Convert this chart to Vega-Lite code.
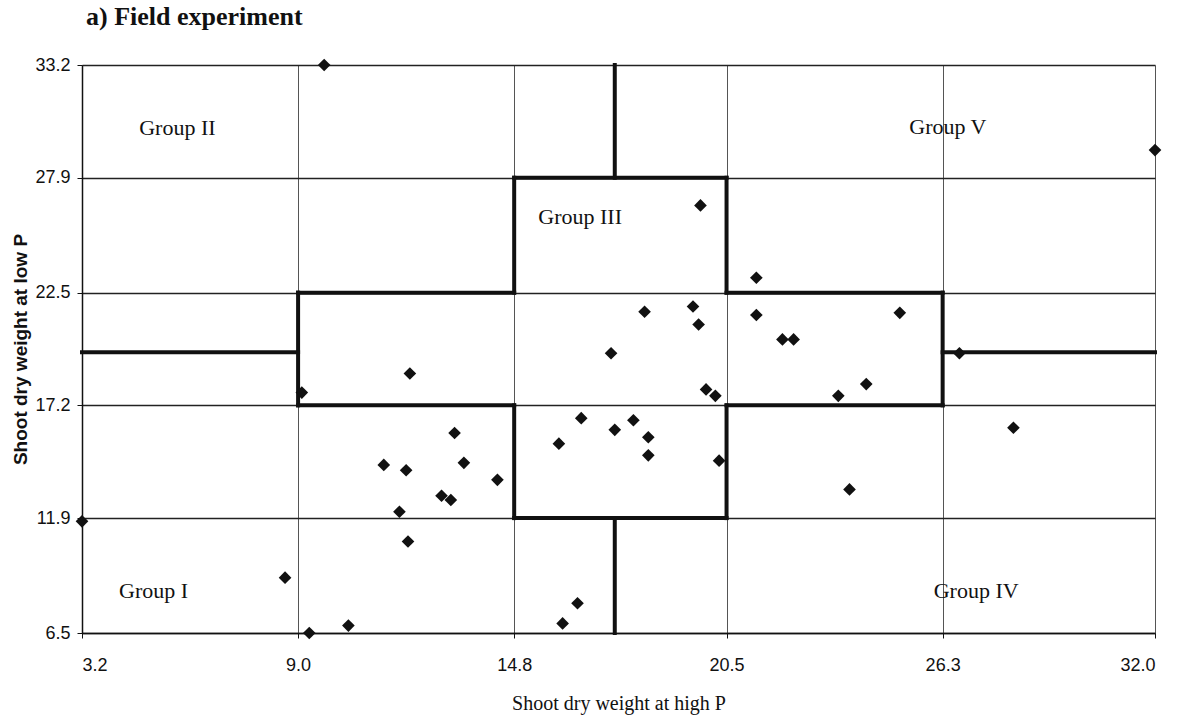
{
  "$schema": "https://vega.github.io/schema/vega-lite/v6.json",
  "autosize": {"type": "none"},
  "width": 1073,
  "height": 568,
  "padding": {"left": 82, "top": 65, "right": 35, "bottom": 88},
  "background": "white",
  "title": {
    "text": "a) Field experiment",
    "anchor": "start",
    "frame": "group",
    "font": "Liberation Serif",
    "fontSize": 26,
    "fontWeight": "bold",
    "color": "#111",
    "baseline": "alphabetic",
    "dx": 4,
    "offset": 5
  },
  "config": {
    "view": {"stroke": null},
    "axis": {
      "labelColor": "#111",
      "titleColor": "#111",
      "domainColor": "#111",
      "tickColor": "#111",
      "tickSize": 5,
      "labelFont": "Liberation Sans",
      "labelFontSize": 18
    }
  },
  "layer": [
    {
      "data": {
        "values": [
          {"x": 17.5, "x2": 17.5, "y": 27.9, "y2": 33.2},
          {"x": 17.5, "x2": 17.5, "y": 6.5, "y2": 11.9},
          {"x": 14.8, "x2": 20.5, "y": 27.9, "y2": 27.9},
          {"x": 14.8, "x2": 14.8, "y": 22.5, "y2": 27.9},
          {"x": 20.5, "x2": 20.5, "y": 22.5, "y2": 27.9},
          {"x": 9.0, "x2": 14.8, "y": 22.5, "y2": 22.5},
          {"x": 20.5, "x2": 26.3, "y": 22.5, "y2": 22.5},
          {"x": 9.0, "x2": 9.0, "y": 17.2, "y2": 22.5},
          {"x": 26.3, "x2": 26.3, "y": 17.2, "y2": 22.5},
          {"x": 3.2, "x2": 9.0, "y": 19.7, "y2": 19.7},
          {"x": 26.3, "x2": 32.0, "y": 19.7, "y2": 19.7},
          {"x": 9.0, "x2": 14.8, "y": 17.2, "y2": 17.2},
          {"x": 20.5, "x2": 26.3, "y": 17.2, "y2": 17.2},
          {"x": 14.8, "x2": 14.8, "y": 11.9, "y2": 17.2},
          {"x": 20.5, "x2": 20.5, "y": 11.9, "y2": 17.2},
          {"x": 14.8, "x2": 20.5, "y": 11.9, "y2": 11.9}
        ]
      },
      "mark": {"type": "rule", "color": "#111", "strokeWidth": 4, "strokeCap": "square"},
      "encoding": {
        "x": {
          "field": "x", "type": "quantitative",
          "scale": {"domain": [3.2, 32.0], "nice": false, "zero": false},
          "axis": {
            "values": [3.2, 9.0, 14.8, 20.5, 26.3, 32.0],
            "format": ".1f",
            "grid": true,
            "gridColor": "#555",
            "gridWidth": 1,
            "domainWidth": 1.5,
            "labelPadding": 18,
            "title": "Shoot dry weight at high P",
            "titleFont": "Liberation Serif",
            "titleFontSize": 20,
            "titleFontWeight": "normal",
            "titlePadding": 19
          }
        },
        "x2": {"field": "x2"},
        "y": {
          "field": "y", "type": "quantitative",
          "scale": {"domain": [6.5, 33.2], "nice": false, "zero": false},
          "axis": {
            "values": [6.5, 11.9, 17.2, 22.5, 27.9, 33.2],
            "format": ".1f",
            "grid": true,
            "gridColor": "#222",
            "gridWidth": 1.5,
            "domainWidth": 1.5,
            "labelPadding": 7,
            "title": "Shoot dry weight at low P",
            "titleFont": "Liberation Sans",
            "titleFontSize": 19,
            "titleFontWeight": "bold",
            "titlePadding": 4
          }
        },
        "y2": {"field": "y2"}
      }
    },
    {
      "data": {
        "values": [
          {"high": 9.7, "low": 33.2},
          {"high": 32.0, "low": 29.2},
          {"high": 19.8, "low": 26.6},
          {"high": 21.3, "low": 23.2},
          {"high": 19.6, "low": 21.85},
          {"high": 18.3, "low": 21.6},
          {"high": 19.75, "low": 21.0},
          {"high": 21.3, "low": 21.45},
          {"high": 22.0, "low": 20.3},
          {"high": 22.3, "low": 20.3},
          {"high": 25.15, "low": 21.55},
          {"high": 17.4, "low": 19.65},
          {"high": 26.75, "low": 19.65},
          {"high": 9.1, "low": 17.8},
          {"high": 12.0, "low": 18.7},
          {"high": 19.95, "low": 17.95},
          {"high": 20.2, "low": 17.65},
          {"high": 24.25, "low": 18.2},
          {"high": 23.5, "low": 17.65},
          {"high": 16.6, "low": 16.6},
          {"high": 18.0, "low": 16.5},
          {"high": 17.5, "low": 16.05},
          {"high": 13.2, "low": 15.9},
          {"high": 18.4, "low": 15.7},
          {"high": 16.0, "low": 15.4},
          {"high": 28.2, "low": 16.15},
          {"high": 18.4, "low": 14.85},
          {"high": 20.3, "low": 14.6},
          {"high": 11.3, "low": 14.4},
          {"high": 13.45, "low": 14.5},
          {"high": 11.9, "low": 14.15},
          {"high": 14.35, "low": 13.7},
          {"high": 12.85, "low": 12.95},
          {"high": 13.1, "low": 12.75},
          {"high": 23.8, "low": 13.25},
          {"high": 11.72, "low": 12.2},
          {"high": 3.2, "low": 11.75},
          {"high": 11.95, "low": 10.8},
          {"high": 8.65, "low": 9.1},
          {"high": 16.5, "low": 7.9},
          {"high": 16.1, "low": 6.95},
          {"high": 10.35, "low": 6.85},
          {"high": 9.3, "low": 6.5}
        ]
      },
      "mark": {"type": "point", "shape": "diamond", "filled": true, "color": "#111", "size": 160, "opacity": 1},
      "encoding": {
        "x": {"field": "high", "type": "quantitative"},
        "y": {"field": "low", "type": "quantitative"}
      }
    },
    {
      "data": {
        "values": [
          {"gx": 5.76, "gy": 30.22, "label": "Group II"},
          {"gx": 16.57, "gy": 26.05, "label": "Group III"},
          {"gx": 26.44, "gy": 30.29, "label": "Group V"},
          {"gx": 5.12, "gy": 8.47, "label": "Group I"},
          {"gx": 27.2, "gy": 8.47, "label": "Group IV"}
        ]
      },
      "mark": {"type": "text", "font": "Liberation Serif", "fontSize": 22, "align": "center", "baseline": "middle", "color": "#111"},
      "encoding": {
        "x": {"field": "gx", "type": "quantitative"},
        "y": {"field": "gy", "type": "quantitative"},
        "text": {"field": "label"}
      }
    }
  ]
}
